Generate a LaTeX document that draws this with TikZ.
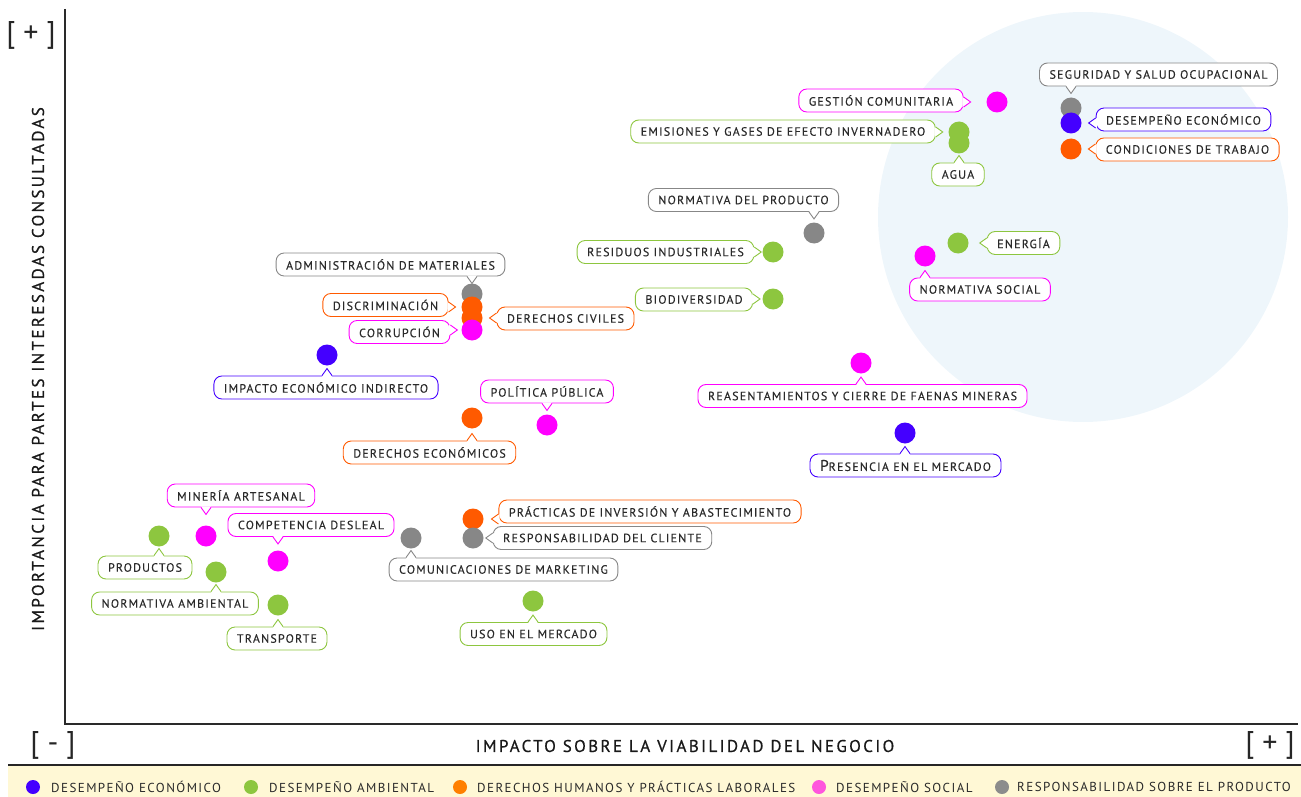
\documentclass[tikz,border=0pt]{standalone}
\usepackage{fontspec}
\setmainfont{PT Sans}
\newfontfamily\lblfont[LetterSpace=10,FakeBold=0.15]{PT Sans}
\newfontfamily\keyfont[LetterSpace=11]{PT Sans}
\newfontfamily\titlefont[LetterSpace=14,FakeBold=0.7]{PT Sans}
\usetikzlibrary{calc}

\definecolor{eco}{HTML}{4400FF}
\definecolor{amb}{HTML}{8DC63F}
\definecolor{dh}{HTML}{FF5A00}
\definecolor{soc}{HTML}{FF00FF}
\definecolor{prod}{HTML}{878787}
\definecolor{dhkey}{HTML}{FF7F00}
\definecolor{sockey}{HTML}{FF55DD}
\definecolor{prodkey}{HTML}{8C8C8C}
\definecolor{bubble}{HTML}{EEF6FB}
\definecolor{band}{HTML}{FFF8D5}
\definecolor{ink}{HTML}{2A2A2A}

% small pointer from a label box towards its dot
\newcommand\notch[3]{%
  \coordinate (nb) at (#1);
  \coordinate (nt) at ($(nb)+(#2)$);
  \coordinate (ni) at ($(nb)!-1.2pt!(nt)$);
  \fill[white] ($(ni)!5pt!90:(nt)$) -- (nt) -- ($(ni)!5pt!-90:(nt)$) -- cycle;
  \draw[#3,line width=0.9pt] ($(nb)!5pt!90:(nt)$) -- (nt) -- ($(nb)!5pt!-90:(nt)$);}

\begin{document}
\begin{tikzpicture}[x=1pt,y=-1pt,
    dot/.style={circle,fill=#1,minimum size=21pt,inner sep=0pt},
    lbl/.style={draw=#1,fill=white,rounded corners=8pt,line width=0.9pt,
      minimum height=23pt,inner xsep=10pt,inner ysep=0pt,text=ink,
      font=\lblfont\fontsize{12}{13}\selectfont},
    key/.style={circle,fill=#1,minimum size=14pt,inner sep=0pt},
    keytext/.style={anchor=west,inner xsep=0pt,text=ink,font=\keyfont\fontsize{13}{14}\selectfont},
    bracket/.style={font=\fontsize{30}{30}\selectfont,text=black!85}]
  \useasboundingbox (0,0) rectangle (1301,797);

  \fill[bubble] (1083,217) circle[radius=205];
  \fill[band] (8,766) rectangle (1301,797);

  \coordinate (ytop) at (65,9);
  \coordinate (origin) at (65,724);
  \coordinate (xend) at (1298,724);
  \coordinate (bandw) at (8,765);
  \coordinate (bande) at (1301,765);
  \draw[ink,line width=1.2pt] (ytop) -- (origin) -- (xend);
  \draw[black!85,line width=2pt] (bandw) -- (bande);

  \node[bracket] (ymax) at (31,35) {[ + ]};
  \node[bracket] (xmin) at (53,745) {[ - ]};
  \node[bracket] (xmax) at (1270,745) {[ + ]};
  \node[font=\titlefont\fontsize{17}{18}\selectfont,text=black!90] (xtitle) at (685,746)
    {IMPACTO SOBRE LA VIABILIDAD DEL NEGOCIO};
  \node[rotate=90,font=\titlefont\fontsize{17}{18}\selectfont,text=black!90] (ytitle) at (38,369)
    {IMPORTANCIA PARA PARTES INTERESADAS CONSULTADAS};

  % dots
  \node[dot=soc] (gestion) at (997,102) {};
  \node[dot=amb] (emisiones) at (959,132) {};
  \node[dot=amb] (agua) at (959,143) {};
  \node[dot=prod] (seguridad) at (1071,108) {};
  \node[dot=eco] (desempeno) at (1071,123) {};
  \node[dot=dh] (condiciones) at (1071,149) {};
  \node[dot=prod] (normprod) at (814,233) {};
  \node[dot=amb] (residuos) at (773,252) {};
  \node[dot=amb] (energia) at (958,243) {};
  \node[dot=soc] (normsoc) at (925,256) {};
  \node[dot=amb] (biodiv) at (773,299) {};
  \node[dot=prod] (admin) at (472,294) {};
  \node[dot=dh] (discrim) at (472,307) {};
  \node[dot=dh] (dercivil) at (472,318) {};
  \node[dot=soc] (corrup) at (472,330) {};
  \node[dot=eco] (impacto) at (327,355) {};
  \node[dot=soc] (reasent) at (861,363) {};
  \node[dot=dh] (dereco) at (472,418) {};
  \node[dot=soc] (politica) at (547,425) {};
  \node[dot=eco] (presencia) at (905,433) {};
  \node[dot=amb] (productos) at (159,536) {};
  \node[dot=soc] (mineria) at (206,536) {};
  \node[dot=soc] (competencia) at (278,561) {};
  \node[dot=amb] (normamb) at (216,572) {};
  \node[dot=amb] (transporte) at (278,605) {};
  \node[dot=prod] (comunic) at (411,538) {};
  \node[dot=dh] (practicas) at (473,519) {};
  \node[dot=prod] (respcli) at (473,538) {};
  \node[dot=amb] (uso) at (533,601) {};

  % labels
  \node[lbl=soc] (gestionL) at (881,100.5) {GESTIÓN COMUNITARIA};
  \node[lbl=amb] (emisionesL) at (783,131.5) {EMISIONES Y GASES DE EFECTO INVERNADERO};
  \node[lbl=amb] (aguaL) at (958,174.5) {AGUA};
  \node[lbl=prod] (seguridadL) at (1158.5,74.5) {SEGURIDAD Y SALUD OCUPACIONAL};
  \node[lbl=eco] (desempenoL) at (1183.5,119.5) {DESEMPEÑO ECONÓMICO};
  \node[lbl=dh] (condicionesL) at (1187.5,149.5) {CONDICIONES DE TRABAJO};
  \node[lbl=prod] (normprodL) at (743.5,200) {NORMATIVA DEL PRODUCTO};
  \node[lbl=amb] (residuosL) at (665.5,252) {RESIDUOS INDUSTRIALES};
  \node[lbl=amb] (energiaL) at (1023.5,243) {ENERGÍA};
  \node[lbl=soc] (normsocL) at (980,289.5) {NORMATIVA SOCIAL};
  \node[lbl=amb] (biodivL) at (694,299.5) {BIODIVERSIDAD};
  \node[lbl=prod] (adminL) at (390.5,264.5) {ADMINISTRACIÓN DE MATERIALES};
  \node[lbl=dh] (discrimL) at (385.5,305) {DISCRIMINACIÓN};
  \node[lbl=dh] (dercivilL) at (565.5,318.5) {DERECHOS CIVILES};
  \node[lbl=soc] (corrupL) at (399.5,332) {CORRUPCIÓN};
  \node[lbl=eco] (impactoL) at (326,387.5) {IMPACTO ECONÓMICO INDIRECTO};
  \node[lbl=soc] (politicaL) at (547,391.5) {POLÍTICA PÚBLICA};
  \node[lbl=dh] (derecoL) at (429.5,452.5) {DERECHOS ECONÓMICOS};
  \node[lbl=soc] (reasentL) at (862.5,396) {REASENTAMIENTOS Y CIERRE DE FAENAS MINERAS};
  \node[lbl=eco] (presenciaL) at (905.5,465.5) {{\fontsize{15.5}{14}\selectfont P}RESENCIA EN EL MERCADO};
  \node[lbl=soc] (mineriaL) at (241,495.5) {MINERÍA ARTESANAL};
  \node[lbl=soc] (competenciaL) at (311,525) {COMPETENCIA DESLEAL};
  \node[lbl=amb] (productosL) at (145,567.5) {PRODUCTOS};
  \node[lbl=amb] (normambL) at (175,603.5) {NORMATIVA AMBIENTAL};
  \node[lbl=amb] (transporteL) at (277,638.5) {TRANSPORTE};
  \node[lbl=prod] (comunicL) at (503.5,569.5) {COMUNICACIONES DE MARKETING};
  \node[lbl=dh] (practicasL) at (650,511.5) {PRÁCTICAS DE INVERSIÓN Y ABASTECIMIENTO};
  \node[lbl=prod] (respcliL) at (602.5,538) {RESPONSABILIDAD DEL CLIENTE};
  \node[lbl=amb] (usoL) at (533.5,634) {USO EN EL MERCADO};

  % pointers
  \notch{gestionL.east |- gestion}{7,0}{soc}
  \notch{emisionesL.east |- emisiones}{7,0}{amb}
  \notch{aguaL.north -| agua}{0,-7}{amb}
  \notch{seguridadL.south -| seguridad}{0,7}{prod}
  \notch{desempenoL.west |- desempeno}{-7,0}{eco}
  \notch{condicionesL.west |- condiciones}{-7,0}{dh}
  \notch{normprodL.south -| normprod}{0,7}{prod}
  \notch{residuosL.east |- residuos}{7,0}{amb}
  \notch{energiaL.west |- energia}{-7,0}{amb}
  \notch{normsocL.north -| normsoc}{0,-7}{soc}
  \notch{biodivL.east |- biodiv}{7,0}{amb}
  \notch{adminL.south -| admin}{0,7}{prod}
  \notch{discrimL.east |- discrim}{7,0}{dh}
  \notch{dercivilL.west |- dercivil}{-7,0}{dh}
  \notch{corrupL.east |- corrup}{7,0}{soc}
  \notch{impactoL.north -| impacto}{0,-7}{eco}
  \notch{politicaL.south -| politica}{0,7}{soc}
  \notch{derecoL.north -| dereco}{0,-7}{dh}
  \notch{reasentL.north -| reasent}{0,-7}{soc}
  \notch{presenciaL.north -| presencia}{0,-7}{eco}
  \notch{mineriaL.south -| mineria}{0,7}{soc}
  \notch{competenciaL.south -| competencia}{0,7}{soc}
  \notch{productosL.north -| productos}{0,-7}{amb}
  \notch{normambL.north -| normamb}{0,-7}{amb}
  \notch{transporteL.north -| transporte}{0,-7}{amb}
  \notch{comunicL.north -| comunic}{0,-7}{prod}
  \notch{practicasL.west |- practicas}{-7,0}{dh}
  \notch{respcliL.west |- respcli}{-7,0}{prod}
  \notch{usoL.north -| uso}{0,-7}{amb}

  % legend
  \node[key=eco] (k1) at (33,787) {};
  \node[keytext] (t1) at (51,787) {DESEMPEÑO ECONÓMICO};
  \node[key=amb] (k2) at (251,787) {};
  \node[keytext] (t2) at (269,787) {DESEMPEÑO AMBIENTAL};
  \node[key=dhkey] (k3) at (460,787) {};
  \node[keytext] (t3) at (477,787) {DERECHOS HUMANOS Y PRÁCTICAS LABORALES};
  \node[key=sockey] (k4) at (819,787) {};
  \node[keytext] (t4) at (836,787) {DESEMPEÑO SOCIAL};
  \node[key=prodkey] (k5) at (1002,787) {};
  \node[keytext] (t5) at (1017,787) {RESPONSABILIDAD SOBRE EL PRODUCTO};
\end{tikzpicture}
\end{document}
